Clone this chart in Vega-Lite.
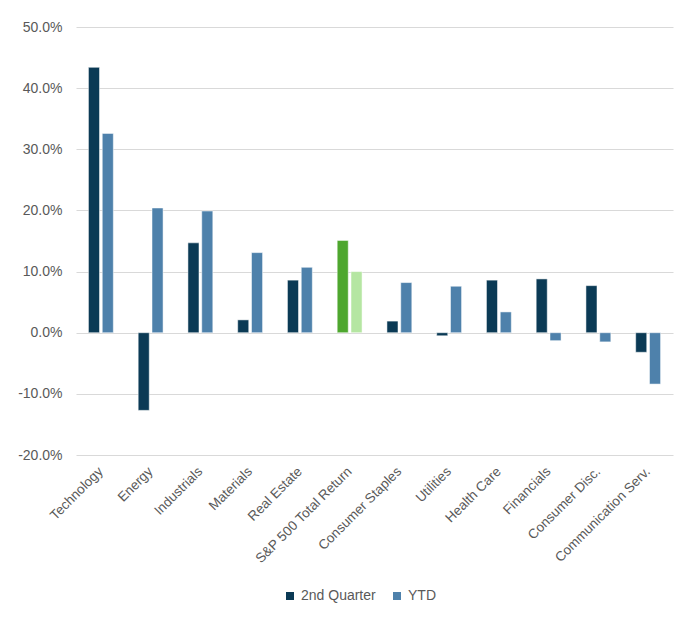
{
  "$schema": "https://vega.github.io/schema/vega-lite/v6.json",
  "width": 597,
  "height": 428,
  "autosize": {"type": "none"},
  "padding": {"left": 76, "top": 27, "right": 25, "bottom": 174},
  "background": "white",
  "data": {
    "values": [
      {"sector": "Technology", "series": "2nd Quarter", "ret": 0.434},
      {"sector": "Technology", "series": "YTD", "ret": 0.326},
      {"sector": "Energy", "series": "2nd Quarter", "ret": -0.127},
      {"sector": "Energy", "series": "YTD", "ret": 0.204},
      {"sector": "Industrials", "series": "2nd Quarter", "ret": 0.147},
      {"sector": "Industrials", "series": "YTD", "ret": 0.199},
      {"sector": "Materials", "series": "2nd Quarter", "ret": 0.021},
      {"sector": "Materials", "series": "YTD", "ret": 0.131},
      {"sector": "Real Estate", "series": "2nd Quarter", "ret": 0.086},
      {"sector": "Real Estate", "series": "YTD", "ret": 0.107},
      {"sector": "S&P 500 Total Return", "series": "2nd Quarter", "ret": 0.151},
      {"sector": "S&P 500 Total Return", "series": "YTD", "ret": 0.100},
      {"sector": "Consumer Staples", "series": "2nd Quarter", "ret": 0.019},
      {"sector": "Consumer Staples", "series": "YTD", "ret": 0.082},
      {"sector": "Utilities", "series": "2nd Quarter", "ret": -0.005},
      {"sector": "Utilities", "series": "YTD", "ret": 0.076},
      {"sector": "Health Care", "series": "2nd Quarter", "ret": 0.086},
      {"sector": "Health Care", "series": "YTD", "ret": 0.034},
      {"sector": "Financials", "series": "2nd Quarter", "ret": 0.088},
      {"sector": "Financials", "series": "YTD", "ret": -0.013},
      {"sector": "Consumer Disc.", "series": "2nd Quarter", "ret": 0.077},
      {"sector": "Consumer Disc.", "series": "YTD", "ret": -0.015},
      {"sector": "Communication Serv.", "series": "2nd Quarter", "ret": -0.032},
      {"sector": "Communication Serv.", "series": "YTD", "ret": -0.084}
    ]
  },
  "mark": {"type": "bar", "stroke": "white", "strokeWidth": 0.5},
  "encoding": {
    "x": {
      "field": "sector",
      "type": "nominal",
      "sort": null,
      "scale": {"paddingInner": 0.5, "paddingOuter": 0.25},
      "axis": {
        "title": null,
        "orient": "bottom",
        "domain": false,
        "ticks": false,
        "labelAngle": -45,
        "labelAlign": "right",
        "labelBaseline": "middle",
        "labelPadding": 14,
        "labelFont": "Liberation Sans",
        "labelFontSize": 13.5,
        "labelColor": "#595959",
        "labelOverlap": false
      }
    },
    "xOffset": {
      "field": "series",
      "type": "nominal",
      "sort": ["2nd Quarter", "YTD"],
      "scale": {"paddingInner": 0.2}
    },
    "y": {
      "field": "ret",
      "type": "quantitative",
      "scale": {"domain": [-0.2, 0.5], "nice": false, "zero": true},
      "axis": {
        "title": null,
        "values": [-0.2, -0.1, 0, 0.1, 0.2, 0.3, 0.4, 0.5],
        "format": ".1%",
        "labelExpr": "replace(datum.label, '\u2212', '-')",
        "domain": false,
        "ticks": false,
        "labelPadding": 14,
        "labelFont": "Liberation Sans",
        "labelFontSize": 14,
        "labelColor": "#595959",
        "gridColor": "#d9d9d9",
        "gridWidth": 1
      }
    },
    "color": {
      "condition": [
        {"test": "datum.sector === 'S&P 500 Total Return' && datum.series === '2nd Quarter'", "value": "#4ea72e"},
        {"test": "datum.sector === 'S&P 500 Total Return' && datum.series === 'YTD'", "value": "#b5e6a2"}
      ],
      "field": "series",
      "type": "nominal",
      "sort": ["2nd Quarter", "YTD"],
      "scale": {"domain": ["2nd Quarter", "YTD"], "range": ["#0b3a55", "#4e81ab"]},
      "legend": {
        "title": null,
        "orient": "none",
        "direction": "horizontal",
        "legendX": 207,
        "legendY": 562,
        "symbolType": "square",
        "symbolSize": 64,
        "symbolStrokeWidth": 0,
        "labelFont": "Liberation Sans",
        "labelFontSize": 14,
        "labelColor": "#595959",
        "labelOffset": 4,
        "columnPadding": 14
      }
    }
  },
  "config": {"view": {"stroke": null}}
}
